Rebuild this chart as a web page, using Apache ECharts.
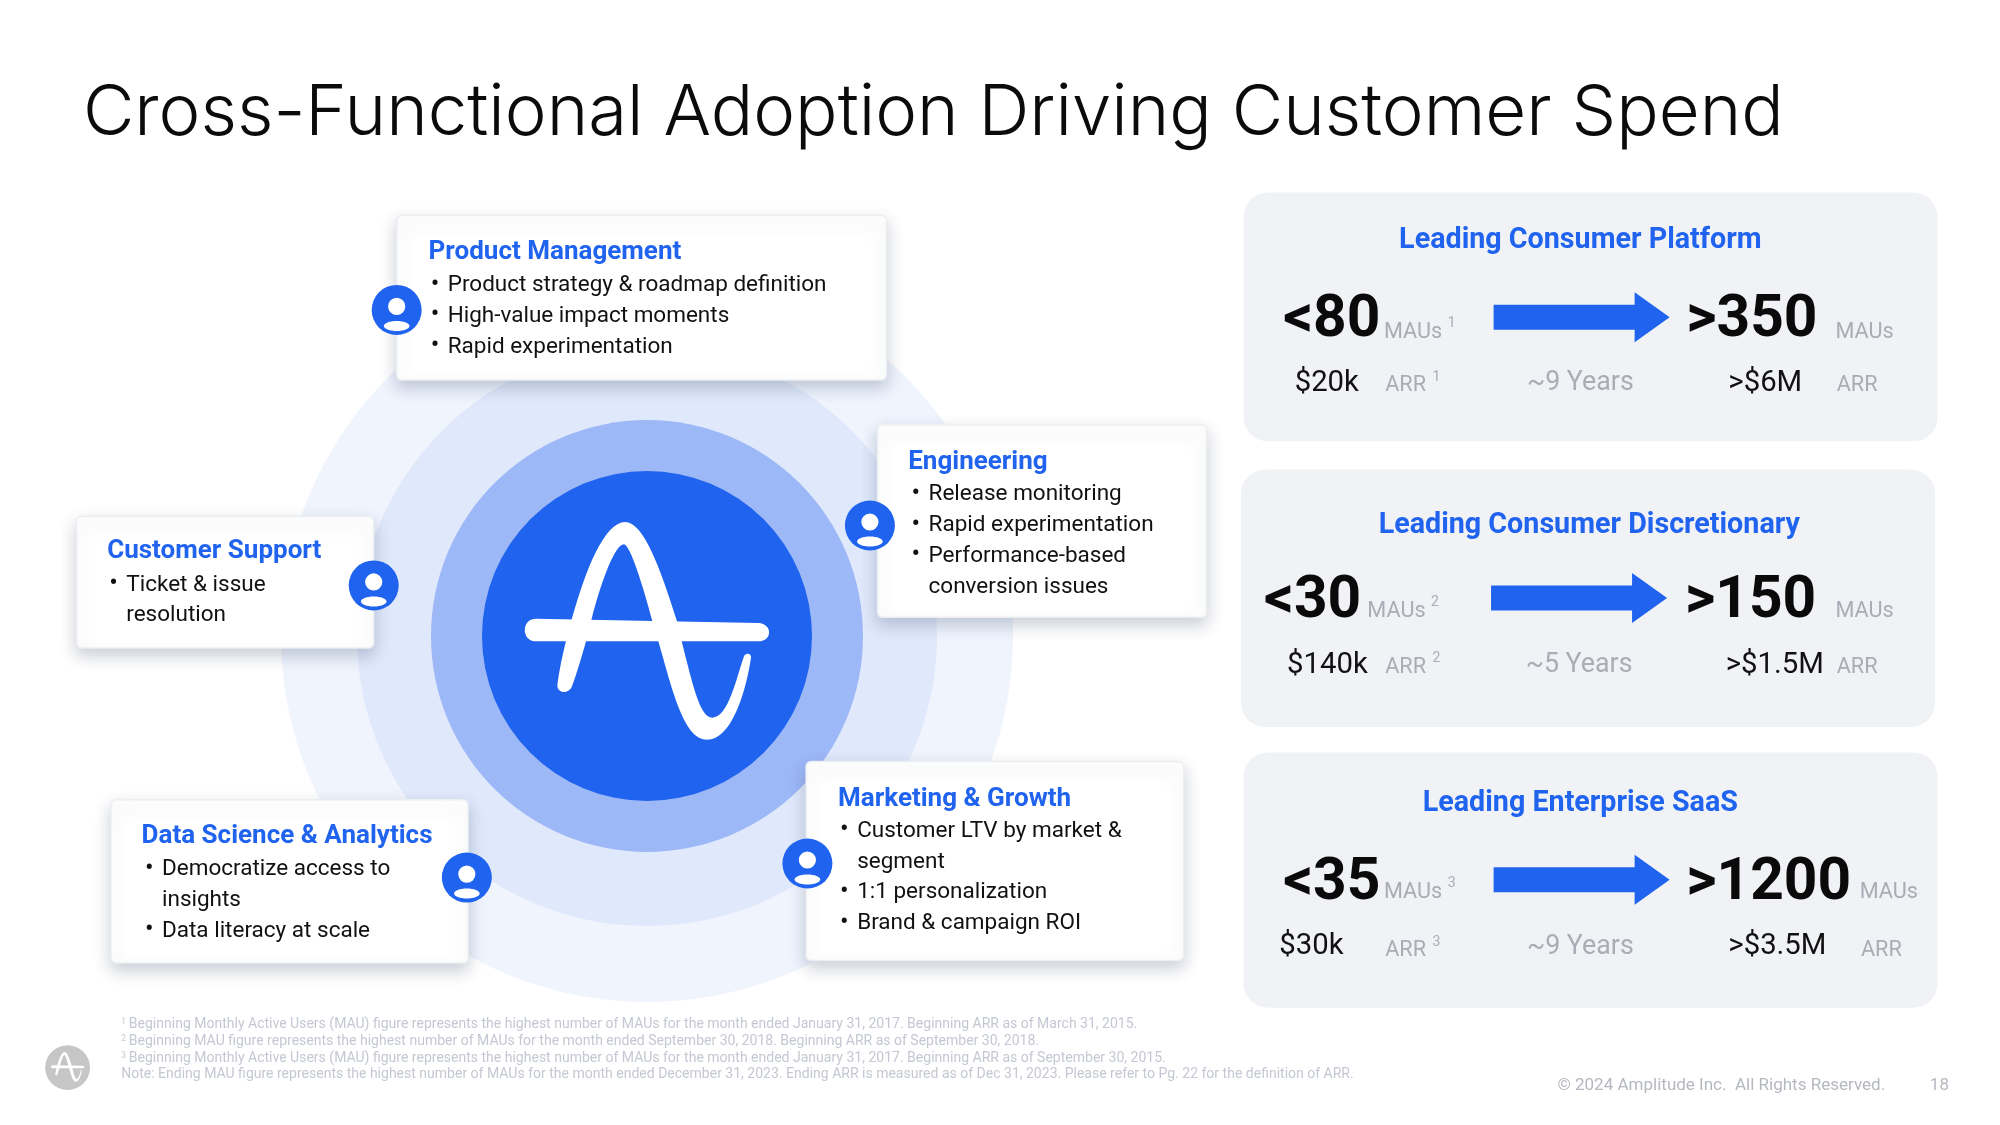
<!DOCTYPE html>
<html>
<head>
<meta charset="utf-8">
<title>Cross-Functional Adoption Driving Customer Spend</title>
<style>
html, body { margin: 0; padding: 0; background: #fff; }
#main { width: 2000px; height: 1125px; }
</style>
<script src="https://cdn.jsdelivr.net/npm/echarts@6/dist/echarts.min.js"></script>
</head>
<body>
<div id="main"></div>
<script>
// slide text and values
var slideTitle = 'Cross-Functional Adoption Driving Customer Spend';

var teamNames = ['Product Management', 'Engineering', 'Customer Support', 'Marketing & Growth', 'Data Science & Analytics'];
// '* ' starts a bullet, the rest are wrapped lines
var teamLines = [
    ['* Product strategy & roadmap definition', '* High-value impact moments', '* Rapid experimentation'],
    ['* Release monitoring', '* Rapid experimentation', '* Performance-based', 'conversion issues'],
    ['* Ticket & issue', 'resolution'],
    ['* Customer LTV by market &', 'segment', '* 1:1 personalization', '* Brand & campaign ROI'],
    ['* Democratize access to', 'insights', '* Data literacy at scale']
];

var peerNames = ['Leading Consumer Platform', 'Leading Consumer Discretionary', 'Leading Enterprise SaaS'];
var startMaus = [80, 30, 35];
var endMaus = [350, 150, 1200];
var startArr = ['$20k', '$140k', '$30k'];
var endArr = ['>$6M', '>$1.5M', '>$3.5M'];
var years = [9, 5, 9];

var ringValues = [1];

var footnotes = [
    'Beginning Monthly Active Users (MAU) figure represents the highest number of MAUs for the month ended January 31, 2017. Beginning ARR as of March 31, 2015.',
    'Beginning MAU figure represents the highest number of MAUs for the month ended September 30, 2018. Beginning ARR as of September 30, 2018.',
    'Beginning Monthly Active Users (MAU) figure represents the highest number of MAUs for the month ended January 31, 2017. Beginning ARR as of September 30, 2015.'
];
var footnoteEnd = 'Note: Ending MAU figure represents the highest number of MAUs for the month ended December 31, 2023. Ending ARR is measured as of Dec 31, 2023. Please refer to Pg. 22 for the definition of ARR.';
var copyright = '\u00a9 2024 Amplitude Inc.  All Rights Reserved.';
var pageNumber = '18';

// layout, measured on the reference as shown (1568 wide)
var S = 2000 / 1568;
var BLUE = '#1f63ee';
var GREY = '#a9adb5';
var FONT = 'Roboto, "Noto Sans", sans-serif';

var teamBoxes = [
    { x: 311, y: 169, w: 384, h: 129, head: 196, first: 222, step: 24.2, dot: 341, text: 351, left: 336, ix: 311, iy: 243 },
    { x: 688, y: 333, w: 258, h: 151, head: 361, first: 386, step: 24.2, dot: 718, text: 728, left: 712, ix: 682, iy: 412 },
    { x: 60, y: 405, w: 233, h: 103, head: 431, first: 457, step: 24.2, dot: 89, text: 99, left: 84, ix: 293, iy: 459 },
    { x: 632, y: 597, w: 296, h: 156, head: 625, first: 650, step: 24.2, dot: 662, text: 672, left: 657, ix: 633, iy: 677 },
    { x: 87, y: 627, w: 280, h: 128, head: 654, first: 680, step: 24.2, dot: 117, text: 127, left: 111, ix: 366, iy: 688 }
];

var peerBoxes = [
    { x: 975, y: 151, w: 544, h: 195, head: 187, hx: 1239, big: 248, small: 298, ax: 1171, sx: 1006, ex: 1322, mau1: 1085, mau2: 1439, sup1: 1135, a0: 1015, arr2: 1440, e0: 1355, yx: 1239, sup2: 1123, dy: 10, dy2: 2 },
    { x: 973, y: 368, w: 544, h: 202, head: 411, hx: 1246, big: 468, small: 519, ax: 1169, sx: 991, ex: 1321, mau1: 1072, mau2: 1439, sup1: 1122, a0: 1009, arr2: 1440, e0: 1353, yx: 1238, sup2: 1123, dy: 9, dy2: 2 },
    { x: 975, y: 590, w: 544, h: 200, head: 629, hx: 1239, big: 689, small: 740, ax: 1171, sx: 1006, ex: 1322, mau1: 1085, mau2: 1458, sup1: 1135, a0: 1003, arr2: 1459, e0: 1355, yx: 1239, sup2: 1123, dy: 8, dy2: 3 }
];

// logo outline, drawn on a 1020 square with the disc centre at 501,497
var LOGO_WAVE = 'M232 645C245 540 300 340 345 250C375 190 405 155 435 155C490 155 540 290 590 450L605 513C640 650 660 742 697 742C745 742 770 620 792 558C796 546 815 548 813 562C800 650 760 808 680 808C610 808 575 650 535 513L515 445C490 350 450 222 432 222C405 222 365 330 335 445L318 513C305 560 290 610 277 645C270 672 232 672 232 645Z';
var LOGO_BAR = 'M168 445L835 458C878 460 878 513 835 513L168 513C123 513 123 445 168 445Z';
echarts.graphic.registerShape('logoWave', echarts.graphic.extendPath(LOGO_WAVE, {}));
echarts.graphic.registerShape('logoBar', echarts.graphic.extendPath(LOGO_BAR, {}));

function txt(text, x, y, size, color, weight, align, family) {
    return {
        type: 'text', z: 30, silent: true,
        x: x * S, y: y * S + 2,
        style: {
            text: text,
            fill: color,
            font: (weight || 400) + ' ' + (size * S) + 'px ' + (family || FONT),
            textAlign: align || 'left',
            textVerticalAlign: 'middle'
        }
    };
}

function logo(cx, cy, k) {
    return ['logoWave', 'logoBar'].map(function (name) {
        return {
            type: name, z: 25, silent: true,
            x: cx - 501 * k, y: cy - 497 * k, scaleX: k, scaleY: k,
            style: { fill: '#fff' }
        };
    });
}

function person(cx, cy) {
    var x = cx * S, y = cy * S;
    return [
        { type: 'circle', z: 25, silent: true, shape: { cx: x, cy: y, r: 25 }, style: { fill: BLUE } },
        { type: 'circle', z: 26, silent: true, shape: { cx: x, cy: y - 3.5, r: 8.6 }, style: { fill: '#fff' } },
        { type: 'ellipse', z: 26, silent: true, shape: { cx: x, cy: y + 16, rx: 12.8, ry: 5 }, style: { fill: '#fff' } }
    ];
}

function buildGraphic() {
    var els = [];
    els.push(txt(slideTitle, 65, 87.5, 55.4, '#0b0b0b', 300, 'left', 'Inter, "Noto Sans", sans-serif'));

    teamNames.forEach(function (name, i) {
        var b = teamBoxes[i];
        els.push({
            type: 'rect', z: 20, silent: true,
            shape: { x: b.x * S, y: b.y * S, width: b.w * S, height: b.h * S, r: 5 },
            style: { fill: '#fff', stroke: '#eceef2', lineWidth: 1.5, shadowBlur: 16, shadowOffsetY: 7, shadowColor: 'rgba(50,65,100,0.25)' }
        });
        els.push(txt(name, b.left, b.head, 20.4, BLUE, 700));
        teamLines[i].forEach(function (line, j) {
            var y = b.first + j * b.step;
            var bullet = line.indexOf('* ') === 0;
            if (bullet) {
                els.push(txt('\u2022', b.dot, y, 20, '#111', 400, 'center'));
            }
            els.push(txt(bullet ? line.slice(2) : line, b.text, y, 17.65, '#111'));
        });
        els = els.concat(person(b.ix, b.iy));
    });

    peerNames.forEach(function (name, i) {
        var p = peerBoxes[i];
        var ax = p.ax * S, ay = p.big * S + 1;
        els.push({
            type: 'rect', z: 20, silent: true,
            shape: { x: p.x * S, y: p.y * S, width: p.w * S, height: p.h * S, r: 24 },
            style: { fill: '#f0f2f6' }
        });
        els.push(txt(name, p.hx, p.head, 22.5, BLUE, 700, 'center'));
        els.push({
            type: 'polygon', z: 25, silent: true,
            shape: { points: [[ax, ay - 12.5], [ax + 141, ay - 12.5], [ax + 141, ay - 25], [ax + 176, ay], [ax + 141, ay + 25], [ax + 141, ay + 12.5], [ax, ay + 12.5]] },
            style: { fill: BLUE }
        });
        els.push(txt('<' + startMaus[i], p.sx, p.big + 2.5, 46, '#0a0a0a', 700));
        els.push(txt('>' + endMaus[i], p.ex, p.big + 2.5, 46, '#0a0a0a', 700));
        els.push(txt('MAUs', p.mau1, p.big + p.dy + 1, 17, GREY));
        els.push(txt(String(i + 1), p.sup1, p.big + p.dy - 6, 11, GREY));
        els.push(txt('MAUs', p.mau2, p.big + p.dy + 1, 17, GREY));
        els.push(txt(startArr[i], p.a0, p.small + 1, 23, '#111'));
        els.push(txt('ARR', 1086, p.small + p.dy2 + 1, 17, GREY));
        els.push(txt(String(i + 1), p.sup2, p.small + p.dy2 - 6, 11, GREY));
        els.push(txt('~' + years[i] + ' Years', p.yx, p.small + 1, 21, GREY, 400, 'center'));
        els.push(txt(endArr[i], p.e0, p.small + 1, 23, '#111'));
        els.push(txt('ARR', p.arr2, p.small + p.dy2 + 1, 17, GREY));
    });

    footnotes.forEach(function (line, i) {
        var y = 802 + i * 13;
        els.push(txt(String(i + 1), 95, y - 2, 6.5, '#c4c8d2'));
        els.push(txt(line, 101, y, 11, '#c4c8d2'));
    });
    els.push(txt(footnoteEnd, 95, 841, 11, '#c4c8d2'));
    els.push(txt(copyright, 1221, 850, 13.35, '#b5b8be'));
    els.push(txt(pageNumber, 1513, 850, 13.35, '#b5b8be'));

    // small grey mark bottom left
    els.push({ type: 'circle', z: 20, silent: true, shape: { cx: 53 * S, cy: 837 * S, r: 22.4 }, style: { fill: '#c6c6c6' } });
    els = els.concat(logo(53 * S, 837 * S, 0.0455));
    // big mark in the middle
    els = els.concat(logo(647, 636, 1 / 3));
    return els;
}

function ring(radius, color, z) {
    return {
        type: 'pie',
        silent: true,
        z: z,
        center: [647, 636],
        radius: [0, radius],
        label: { show: false },
        labelLine: { show: false },
        emphasis: { disabled: true },
        itemStyle: { color: color },
        data: ringValues
    };
}

var myChart = echarts.init(document.getElementById('main'), null, { renderer: 'canvas' });
myChart.setOption({
    animation: false,
    backgroundColor: '#fff',
    tooltip: { show: false },
    series: [
        ring(366, '#eff4fd', 1),
        ring(290, '#e0e9fb', 2),
        ring(216, '#9db8f7', 3),
        ring(165, BLUE, 4)
    ],
    graphic: { elements: buildGraphic() }
});
</script>
</body>
</html>
